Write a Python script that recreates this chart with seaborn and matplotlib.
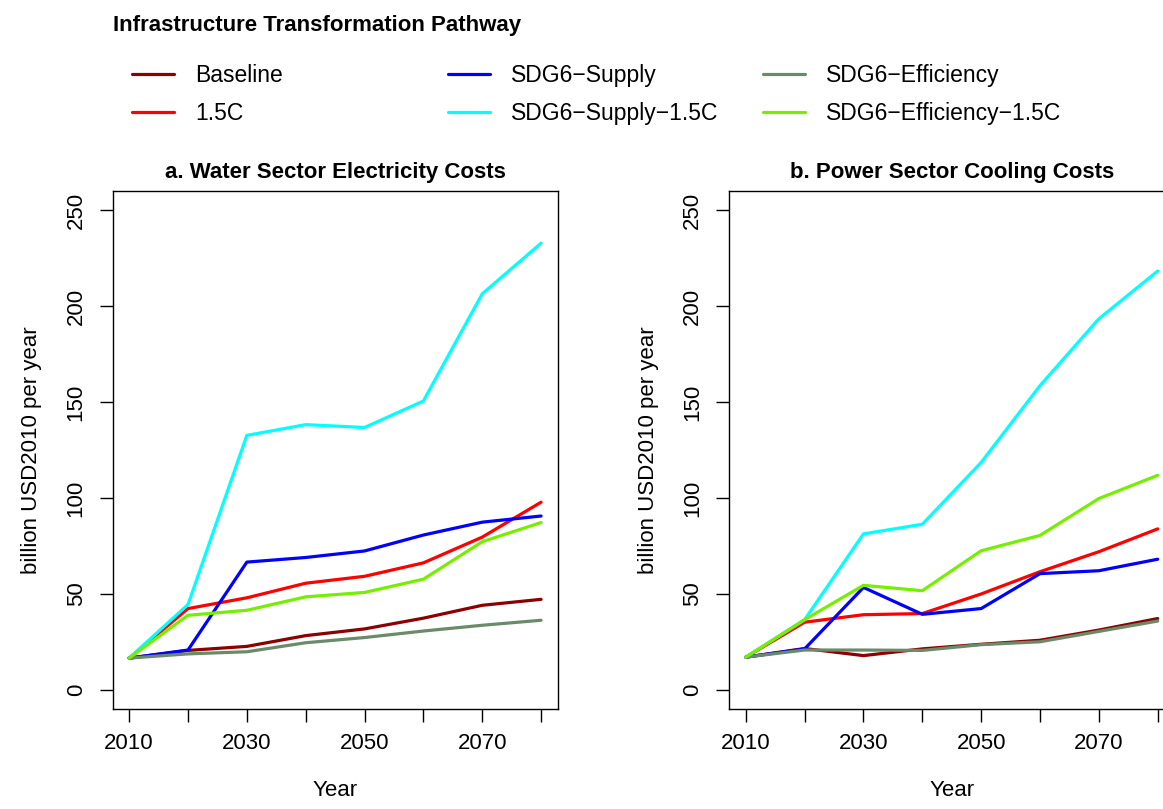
import matplotlib
matplotlib.use('Agg')
import matplotlib.pyplot as plt
from matplotlib.lines import Line2D
import pandas as pd
import seaborn as sns

# Data
years = [2010, 2020, 2030, 2040, 2050, 2060, 2070, 2080]
scenarios = ['Baseline', '1.5C', 'SDG6\u2212Supply', 'SDG6\u2212Supply\u22121.5C',
             'SDG6\u2212Efficiency', 'SDG6\u2212Efficiency\u22121.5C']
colors = ['#8B0000', '#FF0000', '#0000FF', '#00FFFF', '#698B69', '#76EE00']

# a. Water sector electricity costs
water_baseline = [16.6, 20.6, 22.7, 28.3, 31.8, 37.4, 44.1, 47.2]
water_15c = [16.6, 42.4, 48.0, 55.6, 59.2, 66.2, 79.6, 97.8]
water_supply = [16.6, 20.8, 66.6, 69.0, 72.4, 80.7, 87.4, 90.6]
water_supply_15c = [16.6, 44.5, 132.6, 138.2, 136.7, 150.5, 206.3, 232.7]
water_eff = [16.6, 18.8, 19.9, 24.6, 27.3, 30.7, 33.7, 36.3]
water_eff_15c = [16.6, 38.9, 41.5, 48.5, 50.8, 57.7, 77.2, 87.2]

# b. Power sector cooling costs
power_baseline = [17.1, 21.6, 17.9, 21.4, 23.8, 25.9, 31.2, 37.2]
power_15c = [17.1, 35.3, 39.2, 39.8, 50.0, 61.6, 72.0, 83.9]
power_supply = [17.1, 21.4, 53.4, 39.4, 42.4, 60.6, 62.1, 68.1]
power_supply_15c = [17.1, 36.6, 81.3, 86.3, 118.5, 158.5, 193.3, 218.2]
power_eff = [17.1, 20.8, 20.8, 20.6, 23.6, 25.1, 30.5, 35.9]
power_eff_15c = [17.1, 36.6, 54.5, 51.7, 72.5, 80.5, 99.7, 111.8]

water = [water_baseline, water_15c, water_supply, water_supply_15c, water_eff, water_eff_15c]
power = [power_baseline, power_15c, power_supply, power_supply_15c, power_eff, power_eff_15c]


def to_long(series):
    rows = []
    for name, vals in zip(scenarios, series):
        for yr, v in zip(years, vals):
            rows.append({'Year': yr, 'value': v, 'scenario': name})
    return pd.DataFrame(rows)


sns.set_style('ticks')
plt.rcParams['font.family'] = ['Liberation Sans', 'DejaVu Sans']
plt.rcParams['font.size'] = 16
for key in ['text.color', 'axes.labelcolor', 'xtick.color', 'ytick.color', 'axes.edgecolor']:
    plt.rcParams[key] = 'black'

fig = plt.figure(figsize=(11.63, 8.09), dpi=100)
ax1 = fig.add_axes([0.0969, 0.1234, 0.3825, 0.6408])
ax2 = fig.add_axes([0.6271, 0.1234, 0.3825, 0.6408])
palette = dict(zip(scenarios, colors))

for ax, series, title in [(ax1, water, 'a. Water Sector Electricity Costs'),
                          (ax2, power, 'b. Power Sector Cooling Costs')]:
    sns.lineplot(data=to_long(series), x='Year', y='value', hue='scenario',
                 hue_order=scenarios, palette=palette, linewidth=2.3,
                 legend=False, ax=ax)
    ax.set_xlim(2007.2, 2082.8)
    ax.set_ylim(-10, 260)
    ax.set_xticks(years)
    ax.set_xticklabels([str(y) if i % 2 == 0 else '' for i, y in enumerate(years)])
    ax.set_yticks([0, 50, 100, 150, 200, 250])
    ax.set_yticklabels(['0', '50', '100', '150', '200', '250'], rotation=90, va='center')
    ax.tick_params(axis='x', direction='out', length=9.1, width=1, labelsize=16, pad=8.1)
    ax.tick_params(axis='y', direction='out', length=9.1, width=1, labelsize=16, pad=9.6)
    for s in ax.spines.values():
        s.set_visible(True)
        s.set_linewidth(1)
    ax.set_title(title, fontweight='bold', fontsize=16, pad=8.9)
    ax.set_xlabel('Year', fontsize=16, labelpad=18.6)
    ax.set_ylabel('billion USD2010 per year', fontsize=16, labelpad=17)

fig.text(113 / 1163, 1 - 25 / 809, 'Infrastructure Transformation Pathway',
         fontweight='bold', fontsize=16, va='center', ha='left')

# three legend columns, placed like the reference
handles = [Line2D([0], [0], color=c, lw=2.3) for c in colors]
col_x = [132, 448, 763]
for i, x0 in enumerate(col_x):
    fig.legend(handles[2 * i:2 * i + 2], scenarios[2 * i:2 * i + 2], loc='upper left',
               bbox_to_anchor=(x0 / 1163, 1 - 64 / 809), frameon=False,
               fontsize=16.5, handlelength=1.85, handletextpad=0.92,
               labelspacing=0.64, borderpad=0, borderaxespad=0)

fig.savefig('out.png', dpi=100)
